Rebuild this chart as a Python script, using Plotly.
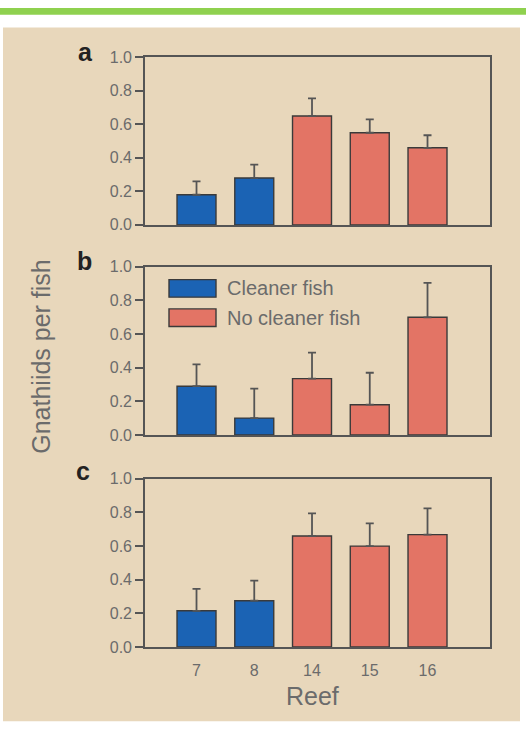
import plotly.graph_objects as go
from plotly.subplots import make_subplots

reefs = ["7", "8", "14", "15", "16"]
panel_labels = ["a", "b", "c"]
series_names = ["Cleaner fish", "No cleaner fish"]
# group of each reef: 0 = cleaner fish, 1 = no cleaner fish
reef_group = [0, 0, 1, 1, 1]

means_a = [0.18, 0.28, 0.65, 0.55, 0.46]
upper_a = [0.26, 0.36, 0.755, 0.63, 0.535]
means_b = [0.29, 0.10, 0.335, 0.18, 0.70]
upper_b = [0.42, 0.275, 0.49, 0.37, 0.905]
means_c = [0.215, 0.275, 0.66, 0.60, 0.668]
upper_c = [0.345, 0.395, 0.795, 0.735, 0.825]

y_ticks = [0.0, 0.2, 0.4, 0.6, 0.8, 1.0]
y_title = "Gnathiids per fish"
x_title = "Reef"

BLUE = "#1b63b4"
RED = "#e37465"
PLOT_BG = "#ccd5ee"
BEIGE = "#e8d7bb"
GREEN = "#8fd14f"
EDGE = "#3a3a3a"
GREY = "#6b6b6b"
FONT = "Liberation Sans, Arial, sans-serif"
W, H = 526, 737

colors = [[BLUE, RED][g] for g in reef_group]

fig = make_subplots(rows=3, cols=1)

panels = [(means_a, upper_a), (means_b, upper_b), (means_c, upper_c)]
ydomains = [(1 - 222 / H, 1 - 50.5 / H), (1 - 437 / H, 1 - 265 / H), (1 - 654 / H, 1 - 482 / H)]
xdom = (145 / W, 490 / W)

for i, (m, u) in enumerate(panels):
    err = [uu - mm for uu, mm in zip(u, m)]
    fig.add_trace(go.Bar(
        x=reefs, y=m, width=0.675,
        marker=dict(color=colors, line=dict(color=EDGE, width=1.4)),
        error_y=dict(type="data", symmetric=False, array=err, arrayminus=[0] * len(err),
                     color="#555555", thickness=1.8, width=4),
        showlegend=False, hoverinfo="skip",
    ), row=i + 1, col=1)
    ax = "" if i == 0 else str(i + 1)
    fig.layout["xaxis" + ax].update(
        domain=list(xdom), type="category", range=[-0.892, 5.082],
        showline=True, mirror=True, linecolor="#555555", linewidth=1.6,
        ticks="outside", ticklen=8, tickcolor="rgba(0,0,0,0)",
        showticklabels=(i == 2), showgrid=False, zeroline=False,
        tickfont=dict(family=FONT, size=16, color=GREY),
    )
    fig.layout["yaxis" + ax].update(
        domain=list(ydomains[i]), range=[0, 1.0],
        tickvals=y_ticks, ticktext=[f"{v:.1f}" for v in y_ticks],
        showline=True, mirror=True, linecolor="#555555", linewidth=1.6,
        ticks="outside", ticklen=8, tickwidth=1.6, tickcolor="#555555",
        showgrid=False, zeroline=False,
        tickfont=dict(family=FONT, size=16, color=GREY),
    )

shapes = [
    dict(type="rect", xref="paper", yref="paper", x0=0, x1=1, y0=1 - 7 / H, y1=1,
         fillcolor=GREEN, line=dict(width=0), layer="below"),
    dict(type="rect", xref="paper", yref="paper", x0=3 / W, x1=520 / W, y0=1 - 730 / H, y1=1 - 20 / H,
         fillcolor=BEIGE, line=dict(width=0), layer="below"),
]
# legend boxes (panel b)
for k, c in enumerate([BLUE, RED]):
    top = 278 + k * 30
    shapes.append(dict(type="rect", xref="paper", yref="paper",
                       x0=169 / W, x1=216 / W, y0=1 - (top + 18) / H, y1=1 - top / H,
                       fillcolor=c, line=dict(color=EDGE, width=1.4)))

annotations = []
for k, name in enumerate(series_names):
    annotations.append(dict(text=name, xref="paper", yref="paper", x=225 / W, y=1 - (287 + k * 30) / H,
                            xanchor="left", yanchor="middle", showarrow=False,
                            font=dict(family=FONT, size=20, color=GREY)))
for lab, (px, py) in zip(panel_labels, [(85, 45), (84, 259), (83, 474)]):
    annotations.append(dict(text=f"<b>{lab}</b>", xref="paper", yref="paper", x=px / W, y=1 - py / H,
                            xanchor="center", yanchor="middle", showarrow=False,
                            font=dict(family=FONT, size=25, color="#222222")))
annotations.append(dict(text=y_title, xref="paper", yref="paper", x=41 / W, y=1 - 357 / H,
                        textangle=-90, xanchor="center", yanchor="middle", showarrow=False,
                        font=dict(family=FONT, size=25, color=GREY)))
annotations.append(dict(text=x_title, xref="paper", yref="paper", x=312 / W, y=1 - 704 / H,
                        xanchor="center", yanchor="middle", showarrow=False,
                        font=dict(family=FONT, size=25, color=GREY)))

fig.update_layout(
    width=W, height=H, margin=dict(l=0, r=0, t=0, b=0),
    paper_bgcolor="white", plot_bgcolor=PLOT_BG,
    shapes=shapes, annotations=annotations, bargap=0.3,
    font=dict(family=FONT),
)

fig.write_html("out.html", config={"displayModeBar": False},
               post_script="document.body.style.margin='0px';")
